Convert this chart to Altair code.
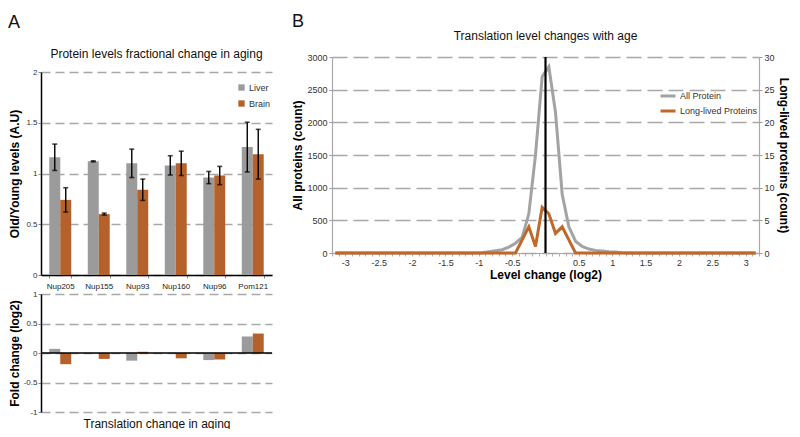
import altair as alt
import pandas as pd

# ---------------- Panel A data ----------------
proteins = ["Nup205", "Nup155", "Nup93", "Nup160", "Nup96", "Pom121"]
tissues = ["Liver", "Brain"]
liver_level = [1.16, 1.12, 1.10, 1.08, 0.96, 1.26]
liver_err = [0.13, 0.005, 0.14, 0.095, 0.06, 0.245]
brain_level = [0.74, 0.60, 0.84, 1.10, 0.98, 1.19]
brain_err = [0.12, 0.01, 0.105, 0.12, 0.09, 0.245]
liver_fold = [0.07, -0.01, -0.13, 0.0, -0.12, 0.28]
brain_fold = [-0.19, -0.10, 0.02, -0.09, -0.11, 0.33]

# ---------------- Panel B data ----------------
level_bins = [-3.15, -3.05, -2.95, -2.85, -2.75, -2.65, -2.55, -2.45, -2.35, -2.25,
              -2.15, -2.05, -1.95, -1.85, -1.75, -1.65, -1.55, -1.45, -1.35, -1.25,
              -1.15, -1.05, -0.95, -0.85, -0.75, -0.65, -0.55, -0.45, -0.35, -0.25,
              -0.15, -0.05, 0.05, 0.15, 0.25, 0.35, 0.45, 0.55, 0.65, 0.75,
              0.85, 0.95, 1.05, 1.15, 1.25, 1.35, 1.45, 1.55, 1.65, 1.75,
              1.85, 1.95, 2.05, 2.15, 2.25, 2.35, 2.45, 2.55, 2.65, 2.75,
              2.85, 2.95, 3.05, 3.15]
all_counts = [0, 0, 0, 0, 0, 0, 0, 0, 0, 0,
              0, 0, 0, 0, 0, 0, 0, 0, 0, 0,
              0, 0, 5, 20, 35, 50, 90, 150, 240, 600,
              1500, 2700, 2850, 2150, 900, 400, 180, 100, 60, 40,
              30, 20, 15, 5, 0, 0, 0, 0, 0, 0,
              0, 0, 0, 0, 0, 0, 0, 0, 0, 0,
              0, 0, 0, 0]
long_counts = [0, 0, 0, 0, 0, 0, 0, 0, 0, 0,
               0, 0, 0, 0, 0, 0, 0, 0, 0, 0,
               0, 0, 0, 0, 0, 0, 0, 0, 2, 4,
               1, 7, 6, 3, 4, 2, 0, 0, 0, 0,
               0, 0, 0, 0, 0, 0, 0, 0, 0, 0,
               0, 0, 0, 0, 0, 0, 0, 0, 0, 0,
               0, 0, 0, 0]
series_names = ["All Protein", "Long-lived Proteins"]

# ---------------- styles ----------------
FONT = "Liberation Sans"
GRAY_BAR = "#9b9b9b"
ORANGE_BAR = "#b5612b"
GRAY_LINE = "#a3a3a3"
ORANGE_LINE = "#c0672a"
GRID = "#a8a8a8"

dfA = pd.DataFrame({
    "protein": proteins * 2,
    "tissue": ["Liver"] * 6 + ["Brain"] * 6,
    "level": liver_level + brain_level,
    "err": liver_err + brain_err,
    "fold": liver_fold + brain_fold,
})
dfA["lo"] = dfA["level"] - dfA["err"]
dfA["hi"] = dfA["level"] + dfA["err"]

num_label = "(datum.value < 0 ? '-' : '') + format(abs(datum.value), '~g')"

W_A = 231
xA_scale = alt.Scale(paddingInner=0.43, paddingOuter=0.215)
xoff = alt.XOffset("tissue:N", sort=tissues, scale=alt.Scale(paddingInner=0, paddingOuter=0))
color_A = alt.Color(
    "tissue:N", sort=tissues,
    scale=alt.Scale(domain=tissues, range=[GRAY_BAR, ORANGE_BAR]),
    legend=alt.Legend(orient="none", legendX=196, legendY=26, title=None,
                      symbolType="square", symbolSize=40, labelFontSize=9,
                      labelOffset=3, rowPadding=6, padding=0, labelColor="#333",
                      labelFont=FONT),
)

yA_common = dict(minExtent=18, maxExtent=18, labelPadding=1, tickSize=3, labelFontSize=8,
                 labelColor="#333", tickColor="#888", domainColor="black", domainWidth=1.5,
                 gridColor=GRID, gridDash=[9, 5], gridWidth=1.3, titleFontSize=12,
                 titleFontWeight="bold", titlePadding=2, titleColor="black",
                 labelExpr=num_label, labelOverlap=False)

xA_top_axis = alt.Axis(title=None, labelAngle=0, labelFontSize=8, labelColor="#222",
                       labelPadding=4, tickSize=3, tickBand="extent", tickColor="#888",
                       domainColor="black", domainWidth=1.5, grid=False)
yA_top_axis = alt.Axis(title="Old/Young levels (A.U)", values=[0, 0.5, 1, 1.5, 2], **yA_common)
yA_top_scale = alt.Scale(domain=[0, 2], nice=False)


def xA_top():
    return alt.X("protein:N", sort=proteins, scale=xA_scale, axis=xA_top_axis)


def yA_top(field):
    return alt.Y(field, scale=yA_top_scale, axis=yA_top_axis)


base_top = alt.Chart(dfA)
bars_top = base_top.mark_bar().encode(
    x=xA_top(), xOffset=xoff, y=yA_top("level:Q"), color=color_A)
err_rule = base_top.mark_rule(color="black", strokeWidth=1.4).encode(
    x=xA_top(), xOffset=xoff, y=yA_top("lo:Q"), y2="hi:Q")
cap_hi = base_top.mark_tick(color="black", size=5, thickness=1.6).encode(
    x=xA_top(), xOffset=xoff, y=yA_top("hi:Q"))
cap_lo = base_top.mark_tick(color="black", size=5, thickness=1.6).encode(
    x=xA_top(), xOffset=xoff, y=yA_top("lo:Q"))

top = alt.layer(bars_top, err_rule, cap_hi, cap_lo).properties(width=W_A, height=203)

xA_bot_axis = alt.Axis(title="Translation change in aging", labels=False, ticks=False,
                       domain=False, grid=False, titleFontSize=12, titleFontWeight="normal",
                       titleColor="#111", titlePadding=6, minExtent=0, maxExtent=0)
yA_bot_axis = alt.Axis(title="Fold change (log2)", values=[-1, -0.5, 0, 0.5, 1], **yA_common)
yA_bot_scale = alt.Scale(domain=[-1, 1], nice=False)

bars_bot = alt.Chart(dfA).mark_bar().encode(
    x=alt.X("protein:N", sort=proteins, scale=xA_scale, axis=xA_bot_axis),
    xOffset=xoff,
    y=alt.Y("fold:Q", scale=yA_bot_scale, axis=yA_bot_axis),
    color=alt.Color("tissue:N", sort=tissues,
                    scale=alt.Scale(domain=tissues, range=[GRAY_BAR, ORANGE_BAR]), legend=None),
)
zero_rule = alt.Chart(pd.DataFrame({"fold": [0]})).mark_rule(color="black", strokeWidth=1.5).encode(
    y=alt.Y("fold:Q", scale=yA_bot_scale, axis=yA_bot_axis))
bottom = alt.layer(bars_bot, zero_rule).properties(width=W_A, height=118)

# empty header cell carrying panel A's chart title (lets panel A's plot sit lower than B's)
header = alt.Chart(pd.DataFrame({"s": [0]})).mark_point(opacity=0, size=1, strokeWidth=0).encode(
    x=alt.value(116), y=alt.value(5)).properties(
    width=W_A, height=11, view=alt.ViewBackground(stroke=None),
    title=alt.TitleParams("Protein levels fractional change in aging", fontSize=12,
                          fontWeight="normal", frame="group", offset=-4, color="#111", font=FONT))

panelA = alt.vconcat(header, top, bottom, spacing=0).properties(
    title=alt.TitleParams("A", fontSize=18, fontWeight="normal", anchor="start",
                          offset=16, color="#111", font=FONT))

# ---------------- Panel B ----------------
dfAll = pd.DataFrame({"level": level_bins, "count": all_counts, "series": series_names[0]})
dfLong = pd.DataFrame({"level": level_bins, "count": long_counts, "series": series_names[1]})

x_ticks = [round(k / 10, 1) for k in range(-32, 33)]
xB_axis = alt.Axis(title="Level change (log2)", values=x_ticks, labelOverlap=False,
                   labelExpr="(abs(round(datum.value*10)) % 5 == 0 && round(datum.value*10) != 0) ? "
                             + num_label + " : ''",
                   labelFontSize=9, labelColor="#333", labelPadding=2, tickSize=3,
                   tickColor="#b0b0b0", domainColor=GRID, domainWidth=1.2, grid=False,
                   titleFontSize=12, titleFontWeight="bold", titleColor="black",
                   titlePadding=2)
xB_scale = alt.Scale(domain=[-3.2, 3.2], nice=False, zero=False)


def xB():
    return alt.X("level:Q", scale=xB_scale, axis=xB_axis)


color_B = alt.Color("series:N", sort=series_names,
                    scale=alt.Scale(domain=series_names, range=[GRAY_LINE, ORANGE_LINE]),
                    legend=alt.Legend(orient="none", legendX=327, legendY=30, title=None,
                                      symbolType="stroke", symbolSize=225, symbolStrokeWidth=3,
                                      labelFontSize=9, labelOffset=3, rowPadding=-1, padding=0,
                                      labelColor="#333", labelFont=FONT))
yB_common = dict(labelFontSize=9, labelColor="#333", labelPadding=2, tickSize=3,
                 tickColor="#999", domainColor=GRID, domainWidth=1.2, titleFontSize=12,
                 titleFontWeight="bold", titleColor="black", titlePadding=2, labelOverlap=False)

line_all = alt.Chart(dfAll).mark_line(strokeWidth=3).encode(
    x=xB(),
    y=alt.Y("count:Q", scale=alt.Scale(domain=[0, 3000], nice=False),
            axis=alt.Axis(title="All proteins (count)", values=[0, 500, 1000, 1500, 2000, 2500, 3000],
                          format="d", grid=True, gridColor=GRID, gridDash=[15, 6], gridWidth=1.4,
                          orient="left", **yB_common)),
    color=color_B,
)
line_long = alt.Chart(dfLong).mark_line(strokeWidth=3).encode(
    x=xB(),
    y=alt.Y("count:Q", scale=alt.Scale(domain=[0, 30], nice=False),
            axis=alt.Axis(title="Long-lived proteins (count)", values=[0, 5, 10, 15, 20, 25, 30],
                          format="d", grid=False, orient="right", **yB_common)),
    color=color_B,
)
vline = alt.Chart(pd.DataFrame({"level": [0]})).mark_rule(color="black", strokeWidth=2.2).encode(
    x=xB())

chartB = alt.layer(line_all, line_long, vline).resolve_scale(y="independent").properties(
    width=427, height=196,
    title=alt.TitleParams("Translation level changes with age", fontSize=12, fontWeight="normal",
                          frame="group", offset=10, color="#111", font=FONT),
)
panelB = alt.vconcat(chartB).properties(
    title=alt.TitleParams("B", fontSize=18, fontWeight="normal", anchor="start",
                          offset=-1, color="#111", font=FONT))

chart = alt.hconcat(panelA, panelB, spacing=18).resolve_scale(color="independent").resolve_legend(
    color="independent").properties(
    padding={"top": 5, "left": 0, "right": 0, "bottom": 0}).configure(
    font=FONT, background="white").configure_view(stroke=None)

chart.save("out.html", embed_options={"renderer": "svg", "actions": False})
